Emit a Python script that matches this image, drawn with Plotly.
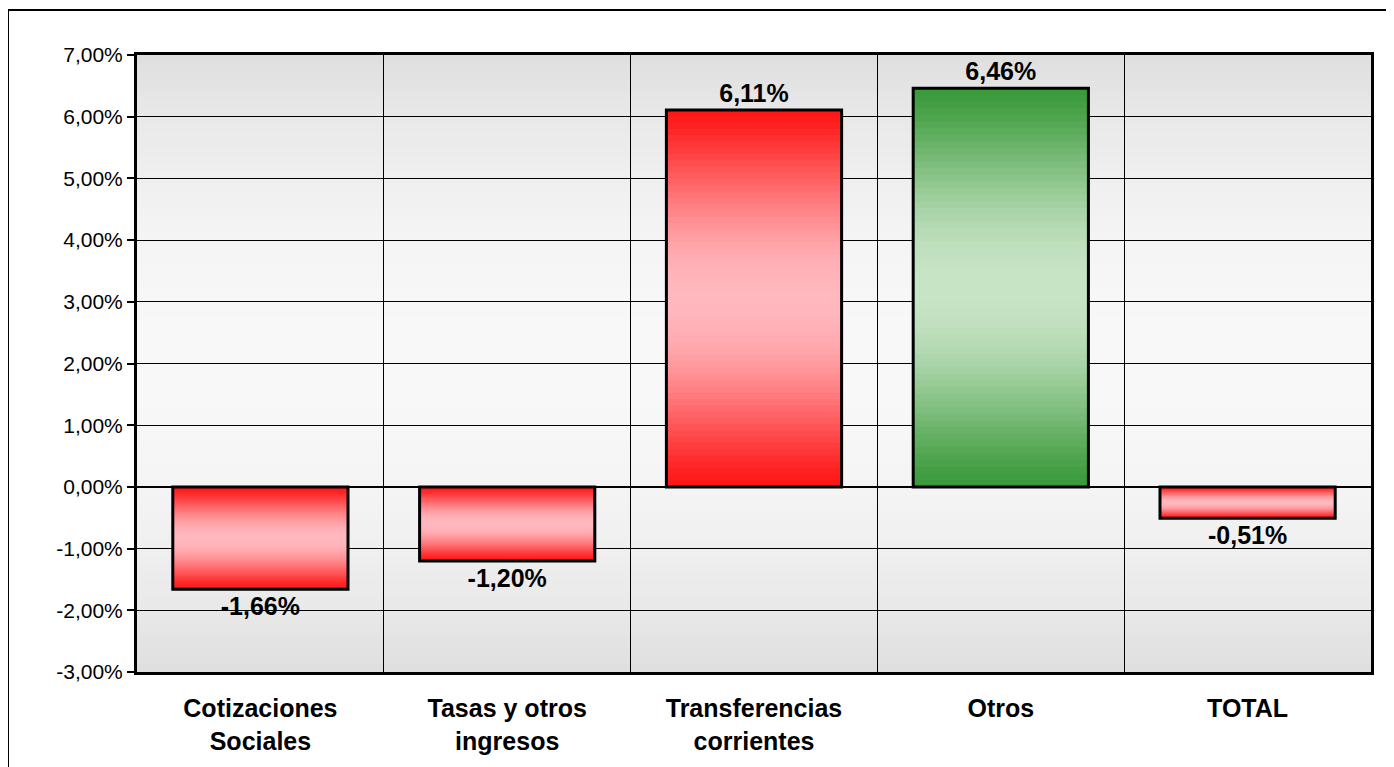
import plotly.graph_objects as go
import numpy as np

categories = ["Cotizaciones<br>Sociales", "Tasas y otros<br>ingresos", "Transferencias<br>corrientes", "Otros", "TOTAL"]
values = [-1.66, -1.20, 6.11, 6.46, -0.51]
bar_kind = ["red", "red", "red", "green", "red"]
y_ticks = [-3, -2, -1, 0, 1, 2, 3, 4, 5, 6, 7]
y_tick_text = ["-3,00%", "-2,00%", "-1,00%", "0,00%", "1,00%", "2,00%", "3,00%",
               "4,00%", "5,00%", "6,00%", "7,00%"]

palette = {
    "red": ((255, 22, 22), (255, 184, 190)),
    "green": ((58, 154, 58), (200, 228, 198)),
}


def mix(c1, c2, s):
    return "rgb(%d,%d,%d)" % tuple(round(a + (b - a) * s) for a, b in zip(c1, c2))


N = 60
fig = go.Figure()
for i in range(N):
    t = (i + 0.5) / N
    s = np.sin(np.pi * t) ** 1.3
    colors = [mix(palette[k][0], palette[k][1], s) for k in bar_kind]
    fig.add_trace(go.Bar(
        x=categories,
        y=[v * (1 - i / N) for v in values],
        base=[v * i / N for v in values],
        marker=dict(color=colors, line=dict(width=0)),
        showlegend=False, hoverinfo="skip",
    ))

labels = [("%.2f" % v).replace(".", ",") + "%" for v in values]
fig.add_trace(go.Bar(
    x=categories, y=values,
    marker=dict(color="rgba(0,0,0,0)", line=dict(color="black", width=3)),
    text=labels, textposition="outside", cliponaxis=False,
    textfont=dict(family="Liberation Sans", size=25, color="black", weight="bold"),
    showlegend=False,
))

# plot-area background gradient (overlapping bands)
shapes = []
M = 80
for j in range(M):
    t = (j + 0.5) / M
    s = np.sin(np.pi * t) ** 0.8
    shapes.append(dict(type="rect", xref="paper", yref="paper", x0=0, x1=1, y0=j / M, y1=1,
                       fillcolor=mix((222, 222, 222), (248, 248, 248), s),
                       line=dict(width=0), layer="below"))
# outer frame
shapes.append(dict(type="rect", xref="paper", yref="paper",
                   x0=(0 - 129) / 1234, x1=1.2, y0=-0.3, y1=(664 - 2) / 617,
                   line=dict(color="black", width=2), fillcolor="rgba(0,0,0,0)", layer="above"))

fig.update_layout(
    width=1394, height=767,
    margin=dict(l=129, r=31, t=47, b=103),
    paper_bgcolor="white", plot_bgcolor="white",
    barmode="overlay", bargap=0.29,
    shapes=shapes,
    font=dict(family="Liberation Sans", color="black"),
)
fig.update_yaxes(
    range=[-3, 7], tickvals=y_ticks, ticktext=y_tick_text,
    tickfont=dict(size=21, color="black"),
    ticks="outside", ticklen=7, tickwidth=2, tickcolor="black",
    showgrid=True, gridcolor="black", gridwidth=1,
    zeroline=True, zerolinecolor="black", zerolinewidth=1.5,
    showline=True, linecolor="black", linewidth=3, mirror=True,
)
fig.update_xaxes(
    type="category", tickson="boundaries", ticks="",
    showgrid=True, gridcolor="black", gridwidth=1,
    tickfont=dict(size=25, color="black", weight="bold"),
    showline=True, linecolor="black", linewidth=3, mirror=True,
    ticklabelstandoff=12,
)

fig.write_html("out.html")
